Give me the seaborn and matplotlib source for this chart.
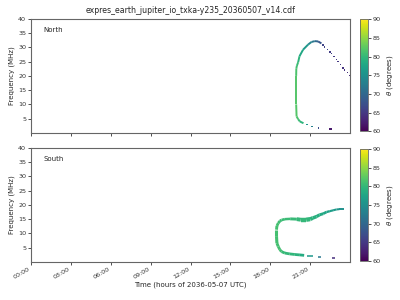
import numpy as np
import matplotlib
matplotlib.use("Agg")
import matplotlib.pyplot as plt
import seaborn as sns
import pandas as pd
from matplotlib.collections import LineCollection
from matplotlib.colors import Normalize

# ---------------- data ----------------
title = "expres_earth_jupiter_io_txka-y235_20360507_v14.cdf"
hour_ticks = [0, 3, 6, 9, 12, 15, 18, 21]
hour_labels = ["00:00", "03:00", "06:00", "09:00", "12:00", "15:00", "18:00", "21:00"]
freq_ticks = [5, 10, 15, 20, 25, 30, 35, 40]
cbar_ticks = [60, 65, 70, 75, 80, 85, 90]

# North: continuous emission track (hours, MHz, theta deg)
north_curve_time = [20.50, 20.23, 20.10, 19.98, 19.95, 19.95, 19.96, 20.00, 20.10, 20.20,
                    20.47, 20.85, 21.10, 21.35, 21.60, 21.85]
north_curve_freq = [3.4, 4.0, 4.8, 5.8, 10.0, 20.0, 22.5, 23.5, 24.8, 26.9,
                    29.2, 31.0, 31.9, 32.2, 32.1, 31.4]
north_curve_theta = [79, 80, 81, 82, 82, 82, 81, 81, 80, 79,
                     77, 75, 73, 71, 69, 67]

# North: sparse points
north_dots_time = [21.98, 22.10, 22.30, 22.50, 22.61, 22.80, 22.98, 23.10,
                   23.28, 23.48, 23.60, 23.80, 23.98,
                   20.73, 20.80, 21.15, 21.65, 22.50, 22.56]
north_dots_freq = [30.9, 30.2, 29.3, 28.4, 27.9, 26.8, 25.7, 25.0,
                   23.9, 22.8, 22.1, 21.1, 20.2,
                   2.9, 2.9, 2.3, 1.75, 1.4, 1.4]
north_dots_theta = [66, 66, 66, 65.5, 65.5, 65.5, 65, 65,
                    65, 64.5, 64.5, 64, 64,
                    76, 76, 73, 67, 62, 62]

# South: continuous emission track
south_curve_time = [20.55, 20.23, 19.85, 19.47, 19.10, 18.85, 18.72, 18.60, 18.50, 18.47,
                    18.47, 18.50, 18.60, 18.72, 18.85, 19.10, 19.50, 20.00, 20.30, 20.70,
                    21.00, 21.20, 21.48, 21.70, 21.98, 22.23, 22.48, 22.73, 22.98, 23.20, 23.53]
south_curve_freq = [2.3, 2.45, 2.6, 2.8, 3.1, 3.6, 4.3, 5.4, 6.6, 9.0,
                    11.3, 12.6, 13.6, 14.3, 14.7, 15.0, 15.1, 15.0, 14.8, 14.8,
                    15.0, 15.4, 15.9, 16.5, 16.9, 17.5, 17.8, 18.1, 18.4, 18.5, 18.5]
south_curve_theta = [78, 79, 79.5, 80, 80, 80.5, 81, 81, 81, 81,
                     81, 81, 81, 80.5, 80.5, 80.5, 80.5, 80, 80, 80,
                     79.5, 79, 79, 78.5, 78, 77.5, 77, 76.5, 76, 75.5, 75]
south_band_width = [2, 2, 2, 2, 2, 2, 2, 2, 2.2, 2.2,
                    2.2, 2, 2, 2, 2, 1.8, 1.8, 2.4, 3.2, 3.2,
                    3.0, 2.6, 2.4, 2.2, 2.0, 1.8, 1.6, 1.5, 1.5, 1.4, 1.4]

# South: short dashes (start hour, end hour, MHz, theta)
south_dash_t0 = [20.75, 21.60, 22.62]
south_dash_t1 = [21.18, 21.85, 22.90]
south_dash_freq = [2.1, 1.75, 1.4]
south_dash_theta = [76, 72, 64]

# ---------------- plot ----------------
sns.set_style("ticks")
plt.rcParams["font.family"] = ["DejaVu Sans"]
cmap = plt.get_cmap("viridis")
norm = Normalize(vmin=60, vmax=90)

fig = plt.figure(figsize=(4, 3), dpi=100)
ax_n = fig.add_axes([0.0775, 0.557, 0.7975, 0.38])
ax_s = fig.add_axes([0.0775, 0.127, 0.7975, 0.38], sharex=ax_n)
cax_n = fig.add_axes([0.900, 0.562, 0.019, 0.374])
cax_s = fig.add_axes([0.900, 0.130, 0.019, 0.374])


def draw_curve(ax, t, f, th, widths=1.6):
    pts = np.column_stack([t, f])
    segs = np.stack([pts[:-1], pts[1:]], axis=1)
    th = np.asarray(th, float)
    vals = 0.5 * (th[:-1] + th[1:])
    if np.ndim(widths) > 0:
        w = np.asarray(widths, float)
        widths = 0.5 * (w[:-1] + w[1:])
    lc = LineCollection(segs, cmap=cmap, norm=norm, linewidths=widths,
                        capstyle="butt", joinstyle="round")
    lc.set_array(vals)
    ax.add_collection(lc)


# North
draw_curve(ax_n, north_curve_time, north_curve_freq, north_curve_theta, 1.4)
df_nd = pd.DataFrame({"time": north_dots_time, "freq": north_dots_freq,
                      "theta": north_dots_theta})
sns.scatterplot(data=df_nd, x="time", y="freq", hue="theta", palette="viridis",
                hue_norm=(60, 90), marker="s", s=1.0, linewidth=0, legend=False, ax=ax_n)

# South
draw_curve(ax_s, south_curve_time, south_curve_freq, south_curve_theta, south_band_width)
dash_segs = [[(a, f), (b, f)] for a, b, f in zip(south_dash_t0, south_dash_t1, south_dash_freq)]
lc_d = LineCollection(dash_segs, cmap=cmap, norm=norm, linewidths=1.1, capstyle="butt")
lc_d.set_array(np.asarray(south_dash_theta, float))
ax_s.add_collection(lc_d)

for ax, name in [(ax_n, "North"), (ax_s, "South")]:
    ax.set_xlim(0, 24)
    ax.set_ylim(0, 40)
    ax.set_yticks(freq_ticks)
    ax.set_ylabel("Frequency (MHz)", fontsize=5, labelpad=2)
    ax.set_xlabel("")
    ax.text(0.04, 0.9, name, transform=ax.transAxes, fontsize=5, va="center", ha="left")
    ax.tick_params(labelsize=4.6, length=2, width=0.6, pad=1.5, colors="#333333")
    for sp in ax.spines.values():
        sp.set_visible(True)
        sp.set_linewidth(0.8)
        sp.set_color("#666666")

ax_s.set_xticks(hour_ticks)
ax_s.set_xticklabels(hour_labels, rotation=30, ha="right")
plt.setp(ax_n.get_xticklabels(), visible=False)
ax_s.set_xlabel("Time (hours of 2036-05-07 UTC)", fontsize=5, labelpad=1)
ax_n.set_title(title, fontsize=5.6, pad=4)

sm = plt.cm.ScalarMappable(norm=norm, cmap=cmap)
for cax in (cax_n, cax_s):
    cb = fig.colorbar(sm, cax=cax, ticks=cbar_ticks)
    cb.set_label(r"$\theta$ (degrees)", fontsize=5, labelpad=3)
    cb.ax.tick_params(labelsize=4.6, length=2, width=0.6, pad=1.5, colors="#333333")
    cb.outline.set_linewidth(0.6)
    cb.outline.set_edgecolor("#666666")

fig.savefig("out.png", dpi=100)
